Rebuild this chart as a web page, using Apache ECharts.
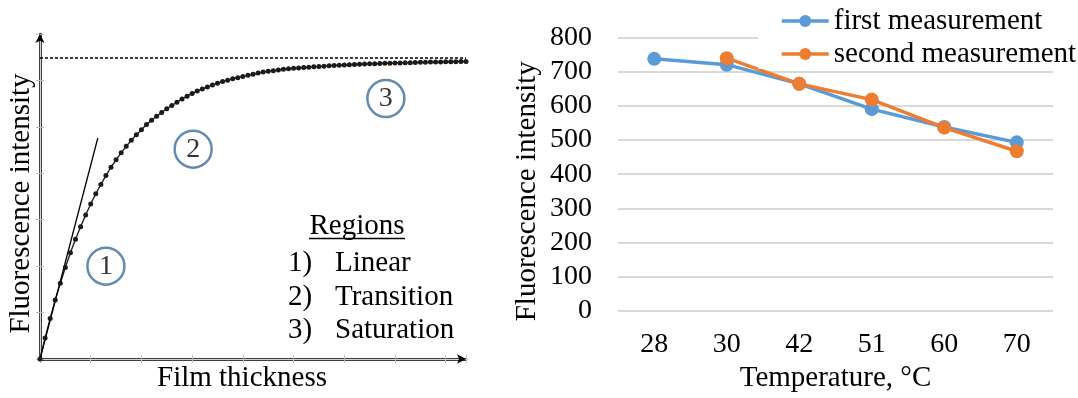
<!DOCTYPE html>
<html>
<head>
<meta charset="utf-8">
<script src="https://cdn.jsdelivr.net/npm/echarts@6/dist/echarts.min.js"></script>
<style>
  html, body { margin: 0; padding: 0; background: #fff; }
  #chart { width: 1078px; height: 398px; }
</style>
</head>
<body>
<div id="chart"></div>
<script>
// left panel: saturation curve (arbitrary units)
const thicknessStep = 0.1
const curveIntensity = [
  0, 0.45, 0.87, 1.27, 1.63, 1.97, 2.29, 2.58, 2.85, 3.10,
  3.34, 3.56, 3.76, 3.95, 4.13, 4.29, 4.44, 4.58, 4.71, 4.83,
  4.94, 5.05, 5.14, 5.23, 5.31, 5.39, 5.46, 5.53, 5.60, 5.66,
  5.72, 5.77, 5.815, 5.86, 5.90, 5.94, 5.975, 6.005, 6.035, 6.06,
  6.085, 6.11, 6.135, 6.16, 6.18, 6.20, 6.21, 6.225, 6.24, 6.25,
  6.26, 6.268, 6.276, 6.284, 6.292, 6.30, 6.308, 6.315, 6.322, 6.328,
  6.334, 6.339, 6.344, 6.349, 6.353, 6.357, 6.361, 6.364, 6.368, 6.371,
  6.374, 6.377, 6.38, 6.383, 6.386, 6.389, 6.392, 6.395, 6.397, 6.399,
  6.401, 6.403, 6.405, 6.407, 6.409
]
const tangentLine = [[0, 0], [1.14, 4.76]]
const saturationLevel = 6.48
const regionMarks = [[1.30, 2.0, '1'], [3.02, 4.52, '2'], [6.82, 5.61, '3']]
const regionNames = ['Linear', 'Transition', 'Saturation']

// right panel: temperature measurements
const temperatures = ['28', '30', '42', '51', '60', '70']
const firstMeasurement = [737, 720, 664, 590, 538, 493]
const secondMeasurement = [null, 739, 664, 618, 536, 467]

const serif = '"Liberation Serif", "Times New Roman", serif'
const chart = echarts.init(document.getElementById('chart'))

const decoAxis = {
  axisLine: { show: true, lineStyle: { color: '#d4d4d4', width: 1 } },
  axisTick: { show: true, inside: true, length: 4, lineStyle: { color: '#bdbdbd' } },
  axisLabel: { show: false },
  splitLine: { show: false }
}

const rowY = [263, 297, 330.5]
const legendRows = regionNames.map((name, i) => ({
  type: 'group',
  children: [
    { type: 'text', z: 11, style: { text: (i + 1) + ')', x: 288, y: rowY[i], fill: '#000', font: '29px ' + serif, verticalAlign: 'middle' } },
    { type: 'text', z: 11, style: { text: name, x: 335, y: rowY[i], fill: '#000', font: '29px ' + serif, verticalAlign: 'middle' } }
  ]
}))

const option = {
  animation: false,
  backgroundColor: '#fff',
  textStyle: { fontFamily: serif },
  grid: [
    { left: 40, right: 612, top: 34, bottom: 36 },
    { left: 618, right: 25, top: 37.3, bottom: 84.7 }
  ],
  legend: {
    orient: 'vertical',
    left: 758,
    top: 4,
    padding: [2, 4, 0, 22],
    backgroundColor: '#fff',
    itemWidth: 47,
    itemHeight: 15,
    itemGap: 3,
    lineStyle: { width: 3.5 },
    textStyle: { fontSize: 29, color: '#000', fontFamily: serif, lineHeight: 30 },
    data: ['first measurement', 'second measurement']
  },
  xAxis: [
    {
      gridIndex: 0, type: 'value', min: 0, max: 8.4, interval: 1,
      name: 'Film thickness', nameLocation: 'middle', nameGap: 5,
      nameTextStyle: { fontSize: 29, color: '#000', fontFamily: serif, padding: [0, 22, 0, 0] },
      axisLine: { lineStyle: { color: '#000', width: 2.5 }, symbol: ['none', 'arrow'], symbolSize: [7, 9] },
      axisTick: { inside: true, length: 4, lineStyle: { color: '#bdbdbd' } },
      axisLabel: { show: false },
      splitLine: { show: false }
    },
    Object.assign({ gridIndex: 0, type: 'value', min: 0, max: 8.4, interval: 1, position: 'top' }, decoAxis),
    {
      gridIndex: 1, type: 'category', data: temperatures, boundaryGap: true,
      name: 'Temperature, °C', nameLocation: 'middle', nameGap: 52,
      nameTextStyle: { fontSize: 29, color: '#000', fontFamily: serif },
      axisLine: { show: false },
      axisTick: { show: false },
      axisLabel: { fontSize: 28, color: '#000', margin: 20, fontFamily: serif }
    }
  ],
  yAxis: [
    {
      gridIndex: 0, type: 'value', min: 0, max: 7, interval: 1,
      name: 'Fluorescence intensity', nameLocation: 'middle', nameGap: 4.5, nameRotate: 90,
      nameTextStyle: { fontSize: 29, color: '#000', fontFamily: serif, padding: [0, 14, 0, 0] },
      axisLine: { lineStyle: { color: '#000', width: 2.5 }, symbol: ['none', 'arrow'], symbolSize: [7, 9] },
      axisTick: { inside: true, length: 4, lineStyle: { color: '#bdbdbd' } },
      axisLabel: { show: false },
      splitLine: { show: false }
    },
    Object.assign({ gridIndex: 0, type: 'value', min: 0, max: 7, interval: 1, position: 'right' }, decoAxis),
    {
      gridIndex: 1, type: 'value', min: 0, max: 800, interval: 100,
      name: 'Fluorescence intensity', nameLocation: 'middle', nameGap: 76, nameRotate: 90,
      nameTextStyle: { fontSize: 29, color: '#000', fontFamily: serif, padding: [0, 34, 0, 0] },
      axisLine: { show: false },
      axisTick: { show: false },
      axisLabel: { fontSize: 28, color: '#000', margin: 26, fontFamily: serif },
      splitLine: { lineStyle: { color: '#d9d9d9', width: 2 } }
    }
  ],
  series: [
    {
      name: 'curve', type: 'line', xAxisIndex: 0, yAxisIndex: 0,
      data: curveIntensity.map((v, i) => [i * thicknessStep, v]),
      symbol: 'circle', symbolSize: 5,
      itemStyle: { color: '#1a1a1a' },
      lineStyle: { color: '#222', width: 1.4 },
      markLine: {
        silent: true, symbol: ['none', 'none'],
        label: { show: false },
        lineStyle: { color: '#000', type: [3, 2], width: 1.5 },
        data: [{ yAxis: saturationLevel }]
      },
      z: 3
    },
    {
      name: 'tangent', type: 'line', xAxisIndex: 0, yAxisIndex: 0,
      data: tangentLine, symbol: 'none',
      lineStyle: { color: '#000', width: 1.3 }
    },
    {
      name: 'regions', type: 'scatter', xAxisIndex: 0, yAxisIndex: 0,
      data: regionMarks, symbolSize: 37,
      itemStyle: { color: 'rgba(0,0,0,0)', borderColor: '#3d6d9c', borderWidth: 2.5 },
      label: {
        show: true, position: 'inside', color: '#000', fontSize: 28, fontFamily: serif,
        formatter: p => p.value[2]
      }
    },
    {
      name: 'first measurement', type: 'line', xAxisIndex: 2, yAxisIndex: 2,
      data: firstMeasurement, symbol: 'circle', symbolSize: 14,
      itemStyle: { color: '#5b9bd5' },
      lineStyle: { color: '#5b9bd5', width: 3.5 }
    },
    {
      name: 'second measurement', type: 'line', xAxisIndex: 2, yAxisIndex: 2,
      data: secondMeasurement, symbol: 'circle', symbolSize: 14,
      itemStyle: { color: '#ed7d31' },
      lineStyle: { color: '#ed7d31', width: 3.5 }
    }
  ],
  graphic: [
    { type: 'rect', z: 10, shape: { x: 286, y: 312, width: 184, height: 40 }, style: { fill: '#fff' } },
    { type: 'text', z: 11, style: { text: 'Regions', x: 357, y: 226, fill: '#000', font: '29px ' + serif, align: 'center', verticalAlign: 'middle' } },
    { type: 'line', z: 11, shape: { x1: 309, y1: 238.5, x2: 405, y2: 238.5 }, style: { stroke: '#000', lineWidth: 1.5 } }
  ].concat(legendRows)
}

chart.setOption(option)
</script>
</body>
</html>
